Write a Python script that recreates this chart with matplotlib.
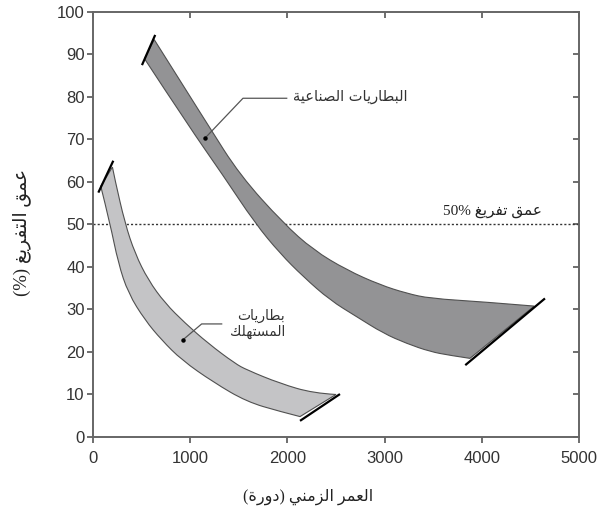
import re
import matplotlib
matplotlib.use("Agg")
import matplotlib.pyplot as plt
from matplotlib.path import Path
from matplotlib.patches import PathPatch

# Arabic letters -> first code point of their presentation forms (iso, fin, ini, med), number of forms
ARABIC = {
    'ا': (0xFE8D, 2), 'ب': (0xFE8F, 4), 'ة': (0xFE93, 2), 'ت': (0xFE95, 4),
    'د': (0xFEA9, 2), 'ر': (0xFEAD, 2), 'ز': (0xFEAF, 2), 'س': (0xFEB1, 4),
    'ص': (0xFEB9, 4), 'ط': (0xFEC1, 4), 'ع': (0xFEC9, 4), 'غ': (0xFECD, 4),
    'ف': (0xFED1, 4), 'ق': (0xFED5, 4), 'ك': (0xFED9, 4), 'ل': (0xFEDD, 4),
    'م': (0xFEE1, 4), 'ن': (0xFEE5, 4), 'ه': (0xFEE9, 4), 'و': (0xFEED, 2),
    'ي': (0xFEF1, 4),
}


def ar(text):
    # crude shaping + right-to-left ordering, one line at a time
    lines = []
    for s in text.split("\n"):
        out = []
        for i, c in enumerate(s):
            if c not in ARABIC:
                out.append(c)
                continue
            base, n = ARABIC[c]
            prev = s[i - 1] if i > 0 else ''
            nxt = s[i + 1] if i + 1 < len(s) else ''
            jp = prev in ARABIC and ARABIC[prev][1] == 4
            jn = n == 4 and nxt in ARABIC
            off = 3 if (jp and jn) else 1 if jp else 2 if jn else 0
            out.append(chr(base + off))
        rev = "".join(out)[::-1]
        rev = rev.translate(str.maketrans("()", ")("))
        rev = re.sub(r"[0-9%]+", lambda m: m.group(0)[::-1], rev)
        lines.append(rev)
    return "\n".join(lines)


# industrial batteries band
ind_upper_x = [630, 1183, 1512, 1958, 2267, 2610, 2953, 3227, 3467, 4015, 4540]
ind_upper_y = [93.5, 73.4, 61.6, 50.3, 44.0, 39.3, 35.8, 33.8, 32.6, 31.8, 30.8]
ind_lower_x = [530, 977, 1337, 1667, 1924, 2164, 2438, 2713, 2987, 3227, 3467, 3673, 3878]
ind_lower_y = [89.0, 73.4, 61.6, 50.3, 43.2, 37.7, 32.2, 28.3, 24.4, 22.0, 20.1, 19.2, 18.5]
ind_cap_top = ([504, 640], [87.5, 94.6])
ind_cap_end = ([3830, 4650], [16.9, 32.6])

# consumer batteries band
con_upper_x = [200, 226, 329, 432, 569, 741, 947, 1186, 1461, 1581, 1924, 2267, 2500]
con_upper_y = [63.5, 60.5, 50.3, 43.2, 36.9, 31.5, 26.8, 22.0, 17.3, 15.8, 12.6, 10.3, 10.0]
con_lower_x = [80, 175, 260, 363, 535, 707, 913, 1238, 1581, 1924, 2130]
con_lower_y = [59.0, 50.3, 40.9, 33.8, 27.5, 22.8, 18.1, 12.9, 8.3, 6.0, 4.8]
con_cap_top = ([55, 209], [57.5, 65.0])
con_cap_end = ([2130, 2541], [3.8, 10.1])

x_ticks = [0, 1000, 2000, 3000, 4000, 5000]
y_ticks = [0, 10, 20, 30, 40, 50, 60, 70, 80, 90, 100]


def smooth_edge(xs, ys, verts, codes, first):
    # quadratic bezier through midpoints, read points act as control points
    pts = list(zip(xs, ys))
    verts.append(pts[0])
    codes.append(Path.MOVETO if first else Path.LINETO)
    for i in range(1, len(pts) - 1):
        mx = (pts[i][0] + pts[i + 1][0]) / 2
        my = (pts[i][1] + pts[i + 1][1]) / 2
        if i == len(pts) - 2:
            mx, my = pts[i + 1]
        verts += [pts[i], (mx, my)]
        codes += [Path.CURVE3, Path.CURVE3]
    if len(pts) == 2:
        verts.append(pts[1]); codes.append(Path.LINETO)


def band(ax, ux, uy, lx, ly, color):
    verts, codes = [], []
    smooth_edge(ux, uy, verts, codes, True)
    smooth_edge(lx[::-1], ly[::-1], verts, codes, False)
    verts.append(verts[0]); codes.append(Path.CLOSEPOLY)
    ax.add_patch(PathPatch(Path(verts, codes), facecolor=color, edgecolor="#505050",
                           linewidth=0.8, zorder=2))


fig = plt.figure(figsize=(6.05, 5.12), dpi=100)
ax = fig.add_axes([0.1537, 0.1465, 0.8033, 0.8301])

band(ax, ind_upper_x, ind_upper_y, ind_lower_x, ind_lower_y, "#939395")
band(ax, con_upper_x, con_upper_y, con_lower_x, con_lower_y, "#c4c4c6")
for cx, cy in [ind_cap_top, ind_cap_end, con_cap_top, con_cap_end]:
    ax.plot(cx, cy, color="black", linewidth=1.6, solid_capstyle="butt", zorder=3)

ax.axhline(50, color="#333333", linewidth=1.0, linestyle=(0, (1.5, 1.5)), zorder=1)

arfont = ["DejaVu Sans"]
# leaders + labels
ax.plot([1152, 1543, 1993], [70.3, 79.7, 79.7], color="#555555", linewidth=0.9, zorder=4)
ax.plot([1152], [70.3], "o", color="black", markersize=2.2, zorder=5)
ax.text(2060, 80.0, ar("البطاريات الصناعية"), family=arfont, fontsize=10.5,
        color="#333333", ha="left", va="center")

ax.plot([922, 1118, 1324], [22.8, 26.6, 26.6], color="#555555", linewidth=0.9, zorder=4)
ax.plot([922], [22.8], "o", color="black", markersize=2.2, zorder=5)
ax.text(1690, 26.6, ar("بطاريات\nالمستهلك"), family=arfont, fontsize=10,
        color="#333333", ha="center", va="center", multialignment="right",
        linespacing=1.1)

ax.text(4620, 53.0, ar("عمق تفريغ 50%"), family=["Liberation Serif", "DejaVu Sans"],
        fontsize=11, color="#222222", ha="right", va="center")

ax.set_xlim(0, 5000)
ax.set_ylim(0, 100)
ax.set_xticks(x_ticks)
ax.set_yticks(y_ticks)
ax.set_xticklabels([str(v) for v in x_ticks], family="Liberation Sans", fontsize=12, color="#333333")
ax.set_yticklabels([str(v) for v in y_ticks], family="Liberation Sans", fontsize=12, color="#333333")
ax.tick_params(direction="out", length=4, width=1.2, color="#555555")
ax.tick_params(axis="x", pad=6)
ax.tick_params(axis="y", pad=2)

for sp in ax.spines.values():
    sp.set_color("#666666")
    sp.set_linewidth(1.4)

top = ax.secondary_xaxis("top")
top.set_xticks(x_ticks)
top.tick_params(direction="in", length=4, width=1.2, color="#555555", labeltop=False)
right = ax.secondary_yaxis("right")
right.set_yticks(y_ticks)
right.tick_params(direction="in", length=4, width=1.2, color="#555555", labelright=False)
for sec in (top, right):
    for sp in sec.spines.values():
        sp.set_visible(False)

ax.set_xlabel(ar("العمر الزمني (دورة)"), family=["Liberation Serif", "DejaVu Sans"],
              fontsize=11.5, color="#222222", va="center")
ax.xaxis.set_label_coords(0.442, -0.141)
ax.set_ylabel(ar("عمق التفريغ (%)"), family=["Liberation Serif", "DejaVu Sans"],
              fontsize=13.5, color="#222222", va="center")
ax.yaxis.set_label_coords(-0.146, 0.482)

fig.savefig("out.png", dpi=100)
